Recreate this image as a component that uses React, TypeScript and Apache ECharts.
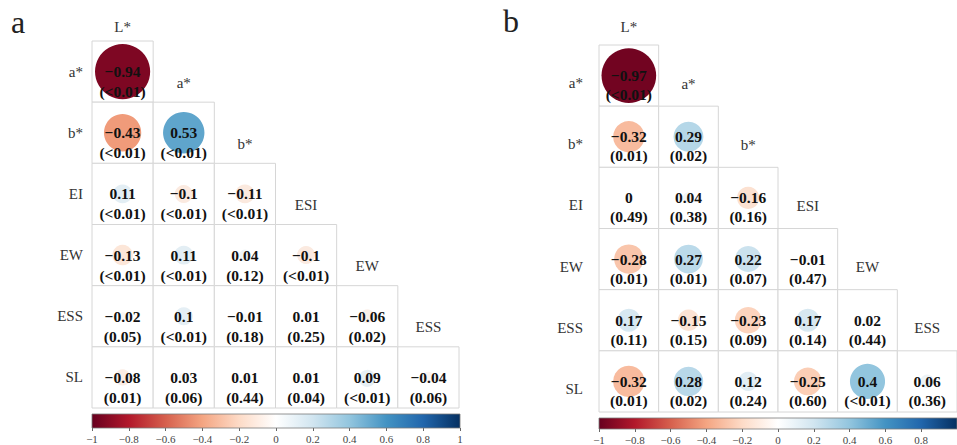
import React, { useEffect, useRef } from "react";
import * as echarts from "echarts";

// ---------- data ----------
const columns = ["L*", "a*", "b*", "ESI", "EW", "ESS"];
const rows = ["a*", "b*", "EI", "EW", "ESS", "SL"];

const corrA: number[][] = [
  [-0.94],
  [-0.43, 0.53],
  [0.11, -0.1, -0.11],
  [-0.13, 0.11, 0.04, -0.1],
  [-0.02, 0.1, -0.01, 0.01, -0.06],
  [-0.08, 0.03, 0.01, 0.01, 0.09, -0.04],
];
const pA: string[][] = [
  ["<0.01"],
  ["<0.01", "<0.01"],
  ["<0.01", "<0.01", "<0.01"],
  ["<0.01", "<0.01", "0.12", "<0.01"],
  ["0.05", "<0.01", "0.18", "0.25", "0.02"],
  ["0.01", "0.06", "0.44", "0.04", "<0.01", "0.06"],
];

const corrB: number[][] = [
  [-0.97],
  [-0.32, 0.29],
  [0, 0.04, -0.16],
  [-0.28, 0.27, 0.22, -0.01],
  [0.17, -0.15, -0.23, 0.17, 0.02],
  [-0.32, 0.28, 0.12, -0.25, 0.4, 0.06],
];
const pB: string[][] = [
  ["<0.01"],
  ["0.01", "0.02"],
  ["0.49", "0.38", "0.16"],
  ["0.01", "0.01", "0.07", "0.47"],
  ["0.11", "0.15", "0.09", "0.14", "0.44"],
  ["0.01", "0.02", "0.24", "0.60", "<0.01", "0.36"],
];

const colorbarRange = [-1, 1];
const rdbuStops = [
  "#67001f", "#b2182b", "#d6604d", "#f4a582", "#fddbc7", "#f9f9f9",
  "#d1e5f0", "#92c5de", "#4393c3", "#2166ac", "#053061",
];

// ---------- helpers ----------
const SERIF = "Liberation Serif";

function hexToRgb(h: string) {
  const n = parseInt(h.slice(1), 16);
  return [(n >> 16) & 255, (n >> 8) & 255, n & 255];
}
function rdbu(v: number) {
  const t = Math.max(0, Math.min(1, (v + 1) / 2)) * (rdbuStops.length - 1);
  const i = Math.min(rdbuStops.length - 2, Math.floor(t));
  const f = t - i;
  const a = hexToRgb(rdbuStops[i]);
  const b = hexToRgb(rdbuStops[i + 1]);
  const c = a.map((x, k) => Math.round(x + (b[k] - x) * f));
  return `rgb(${c[0]},${c[1]},${c[2]})`;
}
function fmt(v: number) {
  const r = Math.round(v * 100) / 100;
  return (r < 0 ? "\u2212" : "") + String(Math.abs(r));
}

function buildItems(corr: number[][], p: string[][]) {
  const items: { value: number[]; p: string }[] = [];
  corr.forEach((row, ri) =>
    row.forEach((v, ci) => items.push({ value: [ci, ri, v], p: p[ri][ci] }))
  );
  return items;
}

function cellSeries(
  corr: number[][],
  p: string[][],
  axisIndex: number,
  fs: number,
  pOffset: number
) {
  const items = buildItems(corr, p);
  return {
    type: "custom",
    xAxisIndex: axisIndex,
    yAxisIndex: axisIndex,
    data: items.map((d) => d.value),
    renderItem: (params: any, api: any) => {
      const col = api.value(0);
      const row = api.value(1);
      const r = api.value(2);
      const c = api.coord([col, row]);
      const s = api.size([1, 1]);
      const w = s[0];
      const h = s[1];
      const pTxt = items[params.dataIndex].p;
      return {
        type: "group",
        children: [
          {
            type: "rect",
            shape: { x: c[0] - w / 2, y: c[1] - h / 2, width: w, height: h },
            style: { fill: "#ffffff", stroke: "#d6d6d6", lineWidth: 1 },
          },
          {
            type: "circle",
            shape: { cx: c[0], cy: c[1], r: w * 0.465 * Math.sqrt(Math.abs(r)) },
            style: { fill: rdbu(r) },
          },
          {
            type: "text",
            style: {
              x: c[0],
              y: c[1],
              text: fmt(r),
              fill: "#111",
              fontSize: fs,
              fontWeight: "bold",
              fontFamily: SERIF,
              align: "center",
              verticalAlign: "middle",
            },
          },
          {
            type: "text",
            style: {
              x: c[0],
              y: c[1] + pOffset,
              text: `(${pTxt})`,
              fill: "#111",
              fontSize: fs,
              fontWeight: "bold",
              fontFamily: SERIF,
              align: "center",
              verticalAlign: "middle",
            },
          },
        ],
      };
    },
  };
}

function headerSeries(axisIndex: number, dy: number) {
  const data = columns.slice(1).map((_, i) => [i + 1, i]);
  return {
    type: "custom",
    xAxisIndex: axisIndex,
    yAxisIndex: axisIndex,
    data,
    renderItem: (params: any, api: any) => {
      const col = api.value(0);
      const c = api.coord([col, api.value(1)]);
      return {
        type: "text",
        style: {
          x: c[0],
          y: c[1] + dy,
          text: columns[col],
          fill: "#333",
          fontSize: 15,
          fontFamily: SERIF,
          align: "center",
          verticalAlign: "middle",
        },
      };
    },
  };
}

function colorbarSeries(axisIndex: number) {
  return {
    type: "custom",
    xAxisIndex: axisIndex,
    yAxisIndex: axisIndex,
    data: [[colorbarRange[0], colorbarRange[1]]],
    renderItem: (params: any, api: any) => {
      const a = api.coord([api.value(0), 0]);
      const b = api.coord([api.value(1), 1]);
      const stops = rdbuStops.map((col, i) => ({
        offset: i / (rdbuStops.length - 1),
        color: i === 5 ? "#ffffff" : col,
      }));
      return {
        type: "rect",
        shape: { x: a[0], y: b[1], width: b[0] - a[0], height: a[1] - b[1] },
        style: {
          fill: new echarts.graphic.LinearGradient(0, 0, 1, 0, stops),
          stroke: "#7a7a7a",
          lineWidth: 0.8,
        },
      };
    },
  };
}

function mainX(gridIndex: number, margin: number) {
  return {
    type: "category",
    gridIndex,
    data: columns,
    position: "top",
    axisLine: { show: false },
    axisTick: { show: false },
    splitLine: { show: false },
    axisLabel: {
      interval: 0,
      margin,
      fontSize: 15,
      fontFamily: SERIF,
      color: "#333",
      formatter: (v: string, i: number) => (i === 0 ? v : ""),
    },
  };
}
function mainY(gridIndex: number, margin: number, vAlign: string) {
  return {
    type: "category",
    gridIndex,
    data: rows,
    inverse: true,
    axisLine: { show: false },
    axisTick: { show: false },
    splitLine: { show: false },
    axisLabel: {
      interval: 0,
      margin,
      fontSize: 15,
      fontFamily: SERIF,
      color: "#333",
      verticalAlign: vAlign,
    },
  };
}
function cbX(gridIndex: number, showMax: boolean) {
  return {
    type: "value",
    gridIndex,
    min: colorbarRange[0],
    max: colorbarRange[1],
    interval: 0.2,
    position: "bottom",
    axisLine: { show: false },
    axisTick: { show: true, length: 3, lineStyle: { color: "#666", width: 1 } },
    splitLine: { show: false },
    axisLabel: {
      margin: 5,
      fontSize: 11,
      fontFamily: SERIF,
      color: "#444",
      showMaxLabel: showMax,
      showMinLabel: true,
      formatter: (v: number) => fmt(Math.round(v * 10) / 10),
    },
  };
}
function cbY(gridIndex: number) {
  return { type: "value", gridIndex, min: 0, max: 1, show: false };
}

export default function App() {
  const ref = useRef<HTMLDivElement>(null);
  useEffect(() => {
    if (!ref.current) return;
    const chart = echarts.init(ref.current, undefined, { renderer: "svg" });
    chart.setOption({
      animation: false,
      backgroundColor: "#ffffff",
      textStyle: { fontFamily: SERIF },
      grid: [
        { left: 92, top: 41, width: 367, height: 367 },
        { left: 599, top: 45, width: 368, height: 367 },
        { left: 92, top: 414, width: 368, height: 14 },
        { left: 599, top: 418, width: 368, height: 13 },
      ],
      xAxis: [mainX(0, 7), mainX(1, 11), cbX(2, true), cbX(3, false)],
      yAxis: [mainY(0, 9, "middle"), mainY(1, 16, "top"), cbY(2), cbY(3)],
      series: [
        cellSeries(corrA, pA, 0, 15.5, 20),
        headerSeries(0, 11),
        cellSeries(corrB, pB, 1, 15.5, 19),
        headerSeries(1, 8),
        colorbarSeries(2),
        colorbarSeries(3),
      ],
      graphic: [
        {
          type: "text",
          left: 11,
          top: 6,
          style: { text: "a", fontSize: 32, fontFamily: SERIF, fill: "#222" },
        },
        {
          type: "text",
          left: 503,
          top: 5,
          style: { text: "b", fontSize: 32, fontFamily: SERIF, fill: "#222" },
        },
      ],
    });
    return () => chart.dispose();
  }, []);
  return (
    <div
      ref={ref}
      style={{ position: "absolute", left: 0, top: 0, width: 957, height: 445 }}
    />
  );
}
